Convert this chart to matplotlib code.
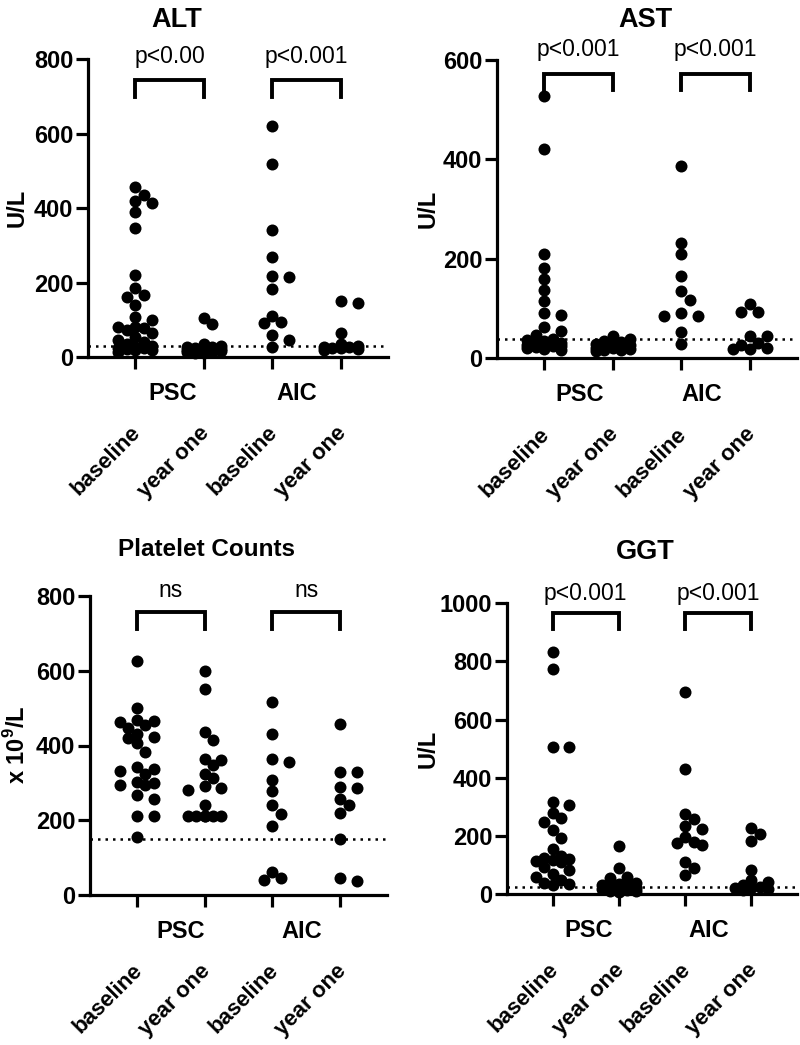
import numpy as np
import matplotlib
matplotlib.use("Agg")
import matplotlib.pyplot as plt
from matplotlib.transforms import offset_copy

plt.rcParams['font.family'] = ['Liberation Sans', 'DejaVu Sans']
plt.rcParams['mathtext.fontset'] = 'custom'
plt.rcParams['mathtext.rm'] = 'Liberation Sans'
plt.rcParams['mathtext.bf'] = 'Liberation Sans:bold'

# ---- data ----
categories = ['baseline', 'year one', 'baseline', 'year one']
groups = ['PSC', 'AIC']

alt_psc_base = [458, 436, 420, 413, 391, 346, 221, 185, 167, 162, 140, 109, 100, 82, 80,
                78, 73, 65, 55, 46, 40, 35, 30, 28, 25, 24, 22, 20, 18, 15]
alt_psc_y1 = [104, 88, 35, 30, 28, 26, 25, 24, 22, 20, 20, 18, 17, 16, 15, 14, 12, 10]
alt_aic_base = [620, 518, 342, 270, 218, 216, 183, 110, 93, 91, 59, 47, 26]
alt_aic_y1 = [152, 146, 64, 35, 30, 28, 27, 25, 24, 22, 20]

ast_psc_base = [528, 421, 211, 181, 159, 138, 116, 92, 88, 64, 55, 47, 40, 38, 35, 32,
                30, 30, 28, 27, 26, 25, 24, 22, 20, 18]
ast_psc_y1 = [46, 40, 36, 33, 30, 28, 27, 25, 24, 22, 21, 20, 18, 17, 15]
ast_aic_base = [386, 233, 211, 166, 136, 118, 92, 85, 85, 54, 30]
ast_aic_y1 = [110, 94, 94, 45, 45, 31, 28, 22, 20, 20]

plt_psc_base = [626, 501, 468, 466, 462, 455, 446, 432, 423, 419, 406, 383, 343, 336,
                333, 323, 303, 300, 294, 294, 267, 256, 211, 211, 156]
plt_psc_y1 = [599, 551, 437, 414, 364, 362, 348, 325, 312, 292, 287, 281, 241, 211, 211,
              211, 211, 211, 211]
plt_aic_base = [517, 432, 364, 355, 307, 278, 241, 218, 185, 62, 45, 40]
plt_aic_y1 = [457, 328, 328, 290, 285, 258, 241, 220, 149, 45, 38]

ggt_psc_base = [831, 774, 507, 507, 318, 307, 278, 261, 249, 221, 194, 154, 130, 125, 121,
                118, 115, 110, 94, 83, 70, 60, 50, 40, 35, 30]
ggt_psc_y1 = [166, 89, 60, 55, 40, 35, 30, 28, 25, 22, 20, 18, 15, 12, 10, 8]
ggt_aic_base = [694, 430, 276, 257, 234, 223, 198, 180, 175, 169, 112, 89, 66]
ggt_aic_y1 = [226, 206, 184, 83, 49, 43, 30, 25, 22, 20, 18, 15]

ref_alt, ref_ast, ref_plt, ref_ggt = 30, 40, 150, 25

W, H = 800, 1045
fig = plt.figure(figsize=(W / 100, H / 100), dpi=100)

DIAM = 12.0  # marker diameter in px


def swarm(vals, yppu):
    # compact beeswarm in pixel space (max 5 columns), returns x offsets in px
    vals = np.asarray(vals, float)
    order = np.argsort(-vals)
    step = DIAM * 0.7
    cands = [0, step, -step, 2 * step, -2 * step]
    placed = []
    off = np.zeros(len(vals))
    for i in order:
        y = vals[i] * yppu
        best, best_d = 0, -1
        for c in cands:
            d = min([np.hypot(c - px, y - py) for px, py in placed] + [1e9])
            if d >= DIAM * 0.8:
                best = c
                break
            if d > best_d:
                best, best_d = c, d
        placed.append((best, y))
        off[i] = best
    return off


def panel(rect_px, series, ymax, ystep, ref, title, title_px, title_fs, ylab, ylab_px,
          brackets, br_y, txt_y, grp_x):
    l, t, r, b = rect_px
    ax = fig.add_axes([l / W, 1 - b / H, (r - l) / W, (b - t) / H])
    xlim = (-0.69, 3.69)
    ax.set_xlim(*xlim)
    ax.set_ylim(0, ymax)
    xppu = (r - l) / (xlim[1] - xlim[0])
    yppu = (b - t) / ymax

    ax.axhline(ref, color='black', ls=(0, (1, 2)), lw=1.8, zorder=1)
    for i, vals in enumerate(series):
        off = swarm(vals, yppu)
        ax.scatter(i + off / xppu, vals, s=(DIAM * 0.72) ** 2, color='black',
                   linewidths=0, zorder=3, clip_on=False)

    for s in ['top', 'right']:
        ax.spines[s].set_visible(False)
    for s in ['left', 'bottom']:
        ax.spines[s].set_linewidth(2.3)
    ax.set_yticks(np.arange(0, ymax + 1, ystep))
    ax.set_xticks(range(4))
    ax.set_xticklabels([])
    ax.tick_params(axis='both', width=2.3, length=8.5, labelsize=17, pad=2)
    for lab in ax.get_yticklabels():
        lab.set_fontweight('bold')

    # category labels
    tr = offset_copy(ax.get_xaxis_transform(), fig=fig, x=-3.5, y=-47, units='points')
    for i, c in enumerate(categories):
        ax.text(i, 0, c, transform=tr, rotation=45, rotation_mode='anchor',
                ha='right', va='top', fontsize=16, fontweight='bold')
    tr2 = offset_copy(ax.get_xaxis_transform(), fig=fig, x=0, y=-26, units='points')
    for gx, g in zip(grp_x, groups):
        ax.text(gx, 0, g, transform=tr2, ha='center', va='center',
                fontsize=17, fontweight='bold')

    # significance brackets
    top, leg = br_y
    for (i, j), lab in brackets:
        ax.plot([i, i, j, j], [leg, top, top, leg], color='black', lw=2.8,
                clip_on=False, solid_joinstyle='miter')
        ax.text((i + j) / 2, txt_y, lab, ha='center', va='center', fontsize=16.5)

    fig.text(title_px[0] / W, 1 - title_px[1] / H, title, ha='center', va='center',
             fontsize=title_fs, fontweight='bold')
    fig.text(ylab_px[0] / W, 1 - ylab_px[1] / H, ylab, ha='center', va='center',
             rotation=90, fontsize=17, fontweight='bold')
    return ax


panel((88, 59.3, 388, 357.1), [alt_psc_base, alt_psc_y1, alt_aic_base, alt_aic_y1],
      800, 200, ref_alt, 'ALT', (177, 20), 19.5, 'U/L', (17, 208),
      [((0, 1), 'p<0.00'), ((2, 3), 'p<0.001')], (745, 700), 807, (0.55, 2.36))

panel((497, 60, 797, 358.5), [ast_psc_base, ast_psc_y1, ast_aic_base, ast_aic_y1],
      600, 200, ref_ast, 'AST', (645, 20), 19.5, 'U/L', (428, 209),
      [((0, 1), 'p<0.001'), ((2, 3), 'p<0.001')], (572, 540), 622, (0.52, 2.3))

panel((90, 596, 387, 895), [plt_psc_base, plt_psc_y1, plt_aic_base, plt_aic_y1],
      800, 200, ref_plt, 'Platelet Counts', (206, 550), 17.5, r'x 10$^\mathbf{9}$/L', (17, 745),
      [((0, 1), 'ns'), ((2, 3), 'ns')], (757, 713), 815, (0.64, 2.43))

panel((507, 603.3, 797, 894.2), [ggt_psc_base, ggt_psc_y1, ggt_aic_base, ggt_aic_y1],
      1000, 200, ref_ggt, 'GGT', (645, 552), 19.5, 'U/L', (428, 749),
      [((0, 1), 'p<0.001'), ((2, 3), 'p<0.001')], (965, 910), 1034, (0.54, 2.35))

fig.savefig('out.png', dpi=100)
